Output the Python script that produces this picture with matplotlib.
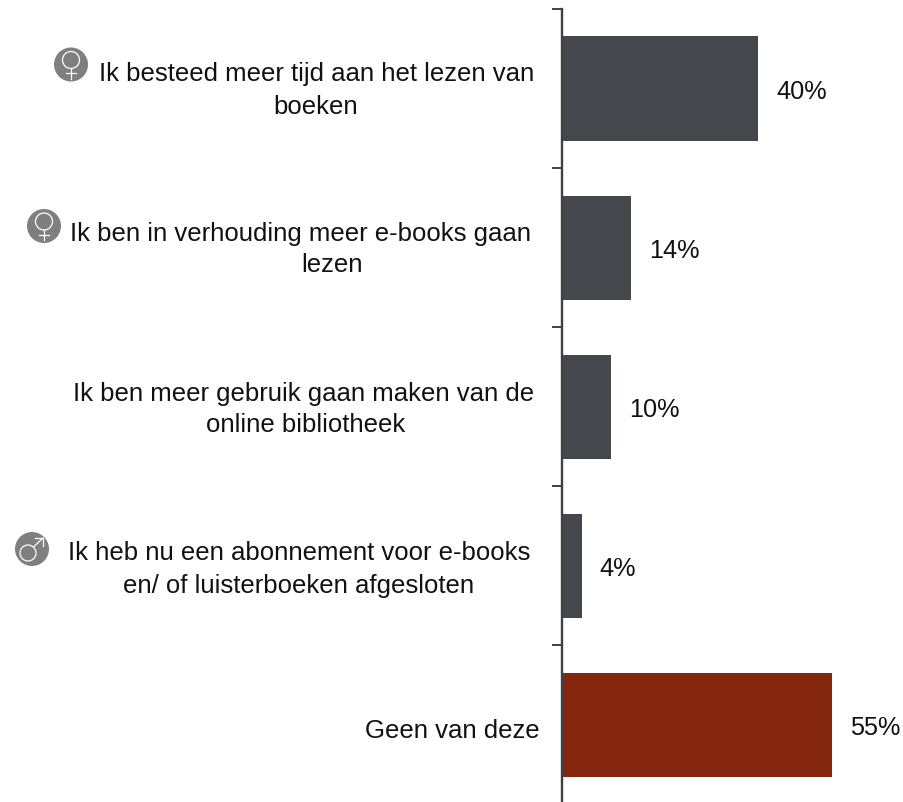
import matplotlib
matplotlib.use("Agg")
import matplotlib.pyplot as plt
from matplotlib.patches import Circle

plt.rcParams['font.family'] = ['Liberation Sans', 'DejaVu Sans']

answers = [
    ["Ik besteed meer tijd aan het lezen van", "boeken"],
    ["Ik ben in verhouding meer e-books gaan", "lezen"],
    ["Ik ben meer gebruik gaan maken van de", "online bibliotheek"],
    ["Ik heb nu een abonnement voor e-books", "en/ of luisterboeken afgesloten"],
    ["Geen van deze"],
]
shares = [40, 14, 10, 4, 55]
bar_colors = ["#44474B", "#44474B", "#44474B", "#44474B", "#85270F"]
share_labels = ["40%", "14%", "10%", "4%", "55%"]
# Horizontal centre and vertical position of each text line, in pixels
line_centres = [[317, 316], [301, 332], [304, 306], [299, 299], [452.5]]
line_rows = [[74.5, 106.5], [233.5, 265.5], [393.5, 425.5], [553.5, 586.5], [731]]
gender_marks = {0: "f", 1: "f", 3: "m"}
badge_centres = {0: (71, 64.5), 1: (44, 226), 3: (32, 549)}

W, H = 904, 802
fig = plt.figure(figsize=(W / 100, H / 100), dpi=100, facecolor="white")
# The value axis runs slightly past the lower figure edge
AX_LEFT, AX_TOP, AX_BOTTOM = 562, 9, 804.5
ax = fig.add_axes([AX_LEFT / W, 1 - AX_BOTTOM / H, (W - AX_LEFT) / W, (AX_BOTTOM - AX_TOP) / H])

positions = list(range(len(shares)))
ax.barh(positions, shares, height=0.655, color=bar_colors, linewidth=0, zorder=2)
ax.set_ylim(4.5, -0.5)
ax.set_xlim(0, (W - AX_LEFT) / 4.9)
ax.set_xticks([])
ax.set_yticks([p - 0.5 for p in positions])
ax.set_yticklabels([])
ax.tick_params(axis="y", length=7.2, width=1.4, color="#404040")
for side in ("top", "right", "bottom"):
    ax.spines[side].set_visible(False)
ax.spines["left"].set_color("#404040")
ax.spines["left"].set_linewidth(1.7)
ax.spines["left"].set_zorder(3)
ax.patch.set_alpha(0)

for p, v, lab in zip(positions, shares, share_labels):
    ax.annotate(lab, (v, p), xytext=(13, -2.2), textcoords="offset points",
                ha="left", va="center", fontsize=18.2, color="#111111", clip_on=False)

# Overlay in pixel coordinates for the question texts and gender badges
ov = fig.add_axes([0, 0, 1, 1], facecolor="none")
ov.set_xlim(0, W)
ov.set_ylim(H, 0)
ov.axis("off")

for lines, centres, rows in zip(answers, line_centres, line_rows):
    for line, cx, y in zip(lines, centres, rows):
        ov.text(cx, y, line, ha="center", va="center", fontsize=18.5, color="#111111")

GREY = "#7F7F7F"
for idx, kind in gender_marks.items():
    cx, cy = badge_centres[idx]
    ov.add_patch(Circle((cx, cy), 17, facecolor=GREY, edgecolor="none"))
    if kind == "f":
        ov.add_patch(Circle((cx, cy - 4.5), 8.5, facecolor="none", edgecolor="white", lw=0.9))
        ov.plot([cx, cx], [cy + 4, cy + 14], color="white", lw=0.9)
        ov.plot([cx - 5, cx + 5], [cy + 8.5, cy + 8.5], color="white", lw=0.9)
    else:
        ov.add_patch(Circle((cx - 4, cy + 4), 8, facecolor="none", edgecolor="white", lw=0.9))
        ov.plot([cx + 1.5, cx + 11], [cy - 2, cy - 11], color="white", lw=0.9)
        ov.plot([cx + 3, cx + 11, cx + 11], [cy - 11, cy - 11, cy - 3], color="white", lw=0.9)

fig.savefig("out.png", dpi=100, facecolor="white")
